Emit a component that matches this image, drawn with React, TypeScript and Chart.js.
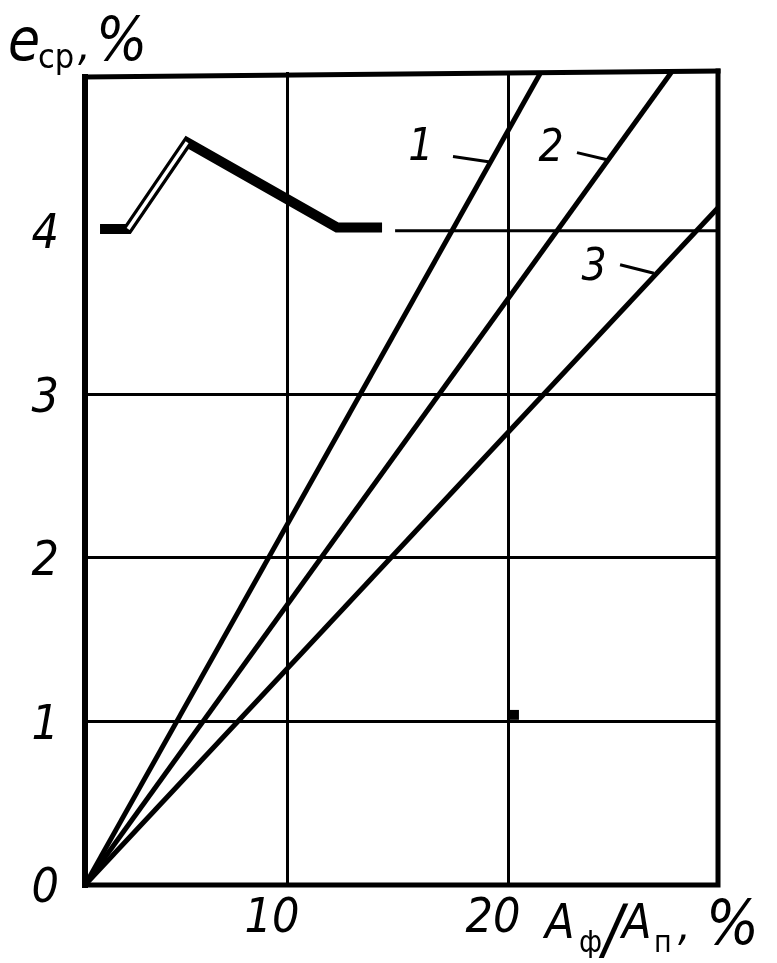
import { useEffect, useRef } from "react";
import { Chart, registerables } from "chart.js";

Chart.register(...registerables);

// axis ranges and tick values
const xMin = 0.86;
const xMax = 29.5;
const yMin = 0;
const yMax = 4.97;
const xTicks = [10, 20];
const yTicks = [0, 1, 2, 3, 4];

// straight curves 1, 2, 3 (from the origin)
const line1X = [0.86, 21.49];
const line1Y = [0, 4.97];
const line2X = [0.86, 27.4];
const line2Y = [0, 4.97];
const line3X = [0.86, 29.5];
const line3Y = [0, 4.14];

// thick broken line at the top
const polyX = [1.54, 2.81, 5.48, 12.26, 14.3];
const polyY = [4.01, 4.01, 4.54, 4.02, 4.02];
// hollow (double-stroke) part of it
const hollowX = [2.81, 5.48];
const hollowY = [4.01, 4.54];

// partial grid line at y = 4
const grid4X = [14.89, 29.5];
const grid4Y = [4, 4];

// curve labels and their leader lines
const curveLabels = ["1", "2", "3"];
const labelX = [16.06, 21.95, 23.89];
const labelY = [4.5, 4.495, 3.768];
const leaderX1 = [17.51, 23.12, 25.07];
const leaderY1 = [4.453, 4.477, 3.792];
const leaderX2 = [19.19, 24.48, 26.6];
const leaderY2 = [4.42, 4.434, 3.74];

// small mark on the y = 1 grid line
const markX = [20.27];
const markY = [1.04];

const FONT = '"DejaVu Sans Condensed", "DejaVu Sans", sans-serif';

const pts = (xs: number[], ys: number[]) => xs.map((x, i) => ({ x, y: ys[i] }));

export default function App() {
  const ref = useRef<HTMLCanvasElement | null>(null);

  useEffect(() => {
    if (!ref.current) return;
    const black = "#000";

    const lineDs = (data: any[], width: number, order = 2, color = black) => ({
      type: "line" as const,
      data,
      borderColor: color,
      backgroundColor: color,
      borderWidth: width,
      pointRadius: 0,
      showLine: true,
      fill: false,
      tension: 0,
      order,
      borderCapStyle: "butt" as const,
      borderJoinStyle: "miter" as const,
    });

    const leaderDatasets = curveLabels.map((_, i) =>
      lineDs(pts([leaderX1[i], leaderX2[i]], [leaderY1[i], leaderY2[i]]), 3, 3)
    );

    const framePlugin = {
      id: "frame",
      afterDraw(chart: any) {
        const { ctx, chartArea: a } = chart;
        ctx.save();
        ctx.strokeStyle = black;
        ctx.lineCap = "square";
        ctx.lineWidth = 6;
        ctx.beginPath();
        ctx.moveTo(a.left, a.top + 5);
        ctx.lineTo(a.left, a.bottom);
        ctx.stroke();
        ctx.lineWidth = 5;
        ctx.beginPath();
        ctx.moveTo(a.left, a.bottom);
        ctx.lineTo(a.right, a.bottom);
        ctx.lineTo(a.right, a.top - 1);
        ctx.stroke();
        ctx.beginPath();
        ctx.moveTo(a.left, a.top + 5);
        ctx.lineTo(a.right, a.top - 1);
        ctx.stroke();

        // curve labels
        const xs = chart.scales.x;
        const ys = chart.scales.y;
        ctx.fillStyle = black;
        ctx.textAlign = "center";
        ctx.textBaseline = "middle";
        ctx.font = `italic 44px ${FONT}`;
        curveLabels.forEach((t, i) => {
          ctx.fillText(t, xs.getPixelForValue(labelX[i]), ys.getPixelForValue(labelY[i]));
        });

        // y axis title: e_ср, %
        ctx.textAlign = "left";
        ctx.textBaseline = "alphabetic";
        ctx.font = `italic 58px ${FONT}`;
        ctx.fillText("e", 8, 60);
        ctx.font = `34px ${FONT}`;
        ctx.fillText("ср", 38, 68);
        ctx.font = `italic 44px ${FONT}`;
        ctx.fillText(",", 78, 60);
        ctx.font = `italic 60px ${FONT}`;
        ctx.fillText("%", 96, 60);

        // x axis title: A_ф / A_п, %
        ctx.font = `italic 48px ${FONT}`;
        ctx.fillText("A", 545, 938);
        ctx.font = `30px ${FONT}`;
        ctx.fillText("ф", 579, 952);
        ctx.font = `italic 66px ${FONT}`;
        ctx.fillText("/", 603, 952);
        ctx.font = `italic 48px ${FONT}`;
        ctx.fillText("A", 622, 938);
        ctx.font = `30px ${FONT}`;
        ctx.fillText("п", 654, 952);
        ctx.font = `italic 44px ${FONT}`;
        ctx.fillText(",", 678, 940);
        ctx.font = `italic 62px ${FONT}`;
        ctx.fillText("%", 706, 944);
        ctx.restore();
      },
    };

    const chart = new Chart(ref.current, {
      type: "line",
      data: {
        datasets: [
          lineDs(pts(hollowX, hollowY), 3.5, 0, "#fff"),
          lineDs(pts(polyX, polyY), 10, 1),
          lineDs(pts(line1X, line1Y), 5, 2),
          lineDs(pts(line2X, line2Y), 5, 2),
          lineDs(pts(line3X, line3Y), 5, 2),
          lineDs(pts(grid4X, grid4Y), 3, 4),
          ...leaderDatasets,
          {
            type: "scatter" as const,
            data: pts(markX, markY),
            pointStyle: "rect",
            pointRadius: 7,
            backgroundColor: black,
            borderColor: black,
            borderWidth: 0,
            order: 3,
          },
        ] as any,
      },
      options: {
        responsive: false,
        animation: false,
        events: [],
        layout: { padding: { left: 0, top: 72, right: 59, bottom: 0 } },
        plugins: { legend: { display: false }, tooltip: { enabled: false } },
        scales: {
          x: {
            type: "linear",
            min: xMin,
            max: xMax,
            afterBuildTicks: (s: any) => {
              s.ticks = xTicks.map((v) => ({ value: v }));
            },
            afterFit: (s: any) => {
              s.height = 78;
            },
            border: { display: false },
            grid: { color: black, lineWidth: 3, drawTicks: false },
            ticks: {
              color: black,
              padding: 6,
              labelOffset: -15,
              maxRotation: 0,
              autoSkip: false,
              font: { family: FONT, size: 48, style: "italic" },
            },
          },
          y: {
            type: "linear",
            min: yMin,
            max: yMax,
            afterBuildTicks: (s: any) => {
              s.ticks = yTicks.map((v) => ({ value: v }));
            },
            afterFit: (s: any) => {
              s.width = 85;
            },
            border: { display: false },
            grid: {
              color: (c: any) => (c.tick && (c.tick.value === 4 || c.tick.value === 0) ? "rgba(0,0,0,0)" : black),
              lineWidth: 3,
              drawTicks: false,
            },
            ticks: {
              color: black,
              padding: 26,
              labelOffset: 5,
              autoSkip: false,
              font: { family: FONT, size: 48, style: "italic" },
            },
          },
        },
      },
      plugins: [framePlugin],
    } as any);

    return () => chart.destroy();
  }, []);

  return (
    <div style={{ position: "absolute", left: 0, top: 0, width: 777, height: 963, background: "#fff" }}>
      <canvas ref={ref} width={777} height={963} style={{ display: "block" }} />
    </div>
  );
}
